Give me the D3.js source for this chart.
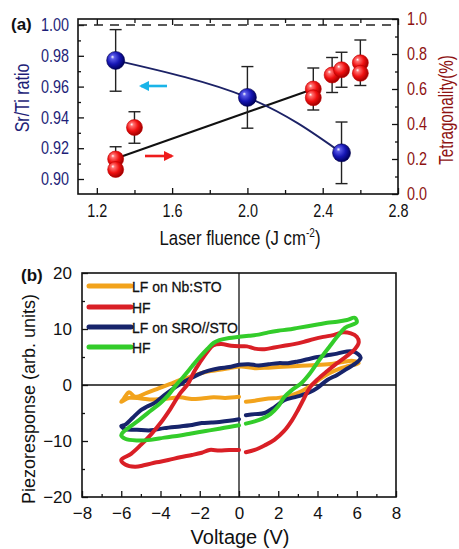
<!DOCTYPE html>
<html>
<head>
<meta charset="utf-8">
<script src="https://cdn.jsdelivr.net/npm/d3@7"></script>
<style>
  html, body { margin: 0; padding: 0; background: #fff; }
  svg { display: block; }
</style>
</head>
<body>
<svg id="fig" width="459" height="549"></svg>
<script>
// ---------- Panel (a): Sr/Ti ratio and tetragonality vs laser fluence ----------
const fluenceTicks = [1.2, 1.6, 2.0, 2.4, 2.8];
const fluenceMinor = [1.4, 1.8, 2.2, 2.6];
const srTiTicks = [0.90, 0.92, 0.94, 0.96, 0.98, 1.00];
const srTiMinor = [0.91, 0.93, 0.95, 0.97, 0.99];
const tetraTicks = [0.0, 0.2, 0.4, 0.6, 0.8, 1.0];
const tetraMinor = [0.1, 0.3, 0.5, 0.7, 0.9];

// Sr/Ti ratio (left axis): fluence, value, error
const srTiFluence = [1.3, 2.0, 2.5];
const srTiValue = [0.977, 0.953, 0.917];
const srTiError = [0.020, 0.020, 0.020];

// Tetragonality (right axis): fluence, value, error (error null = no bar)
const tetraFluence = [1.3, 1.3, 1.4, 2.35, 2.35, 2.45, 2.5, 2.6, 2.6];
const tetraValue = [0.20, 0.14, 0.38, 0.60, 0.55, 0.68, 0.71, 0.75, 0.69];
const tetraError = [0.07, null, 0.09, 0.12, null, 0.10, 0.10, 0.13, null];

// linear trend for tetragonality (end points)
const trendFluence = [1.32, 2.35];
const trendValue = [0.21, 0.60];

// ---------- Panel (b): PFM hysteresis loops ----------
const voltTicks = [-8, -6, -4, -2, 0, 2, 4, 6, 8];
const voltMinor = [-7, -5, -3, -1, 1, 3, 5, 7];
const pzTicks = [-20, -10, 0, 10, 20];
const pzMinor = [-15, -5, 5, 15];

const legendLabels = ["LF on Nb:STO", "HF", "LF on SRO//STO", "HF"];
const loopColors = ["#f2a31c", "#d91f26", "#17246b", "#33cc2a"];

const loopLFNb = [[0.35,-3.0],[0.8,-2.8],[1.5,-2.4],[2.0,-2.3],[2.5,-2.0],[3.0,-1.4],[3.3,-0.9],[3.7,0.0],[4.1,1.0],[4.6,2.1],[5.1,2.9],[5.6,3.4],[6.1,3.9],[5.8,4.3],[5.3,4.1],[4.8,3.8],[4.1,3.6],[3.5,3.5],[3.0,3.4],[2.5,3.3],[2.0,3.2],[1.5,3.1],[0.8,3.0],[0.1,3.3],[-0.5,3.0],[-1.0,2.7],[-1.6,2.4],[-2.2,1.8],[-2.6,1.3],[-3.0,0.9],[-3.5,0.2],[-4.1,-0.6],[-4.7,-1.4],[-5.3,-2.1],[-5.6,-1.3],[-5.9,-2.6],[-6.0,-3.0],[-5.6,-2.3],[-5.0,-2.4],[-4.4,-2.6],[-3.6,-2.4],[-3.0,-2.2],[-2.4,-2.5],[-1.9,-2.4],[-1.3,-2.2],[-0.7,-2.3],[0.0,-2.1]];

const loopHF1 = [[0.35,-12.0],[0.8,-11.6],[1.3,-10.8],[1.8,-9.8],[2.3,-8.2],[2.7,-6.3],[3.0,-4.5],[3.3,-2.5],[3.6,-0.5],[4.0,1.0],[4.5,2.5],[5.0,3.9],[5.5,5.2],[5.9,6.4],[6.1,7.6],[6.0,8.6],[5.7,9.2],[5.3,9.4],[4.8,8.9],[4.3,8.6],[3.8,8.2],[3.3,7.7],[2.8,7.3],[2.3,7.0],[1.8,6.7],[1.3,6.4],[0.8,6.5],[0.4,6.9],[0.0,6.9],[-0.4,7.0],[-0.9,7.3],[-1.3,7.1],[-1.6,6.0],[-2.0,4.0],[-2.3,2.3],[-2.6,0.2],[-3.0,-1.5],[-3.5,-4.3],[-4.0,-6.8],[-4.5,-8.9],[-5.0,-10.7],[-5.5,-12.3],[-6.0,-13.4],[-5.8,-14.2],[-5.3,-14.6],[-4.8,-14.3],[-4.2,-13.8],[-3.6,-13.4],[-3.0,-12.9],[-2.4,-12.5],[-1.9,-12.1],[-1.5,-11.6],[-1.0,-11.7],[-0.5,-11.6],[0.0,-11.6]];

const loopLFSro = [[0.35,-5.4],[0.8,-5.2],[1.3,-5.0],[1.8,-4.0],[2.3,-2.7],[2.8,-2.2],[3.2,-1.8],[3.6,-1.3],[4.0,-0.5],[4.5,0.9],[5.0,1.8],[5.5,2.9],[6.0,4.0],[6.2,4.9],[5.9,5.9],[5.5,6.0],[5.0,5.6],[4.5,5.3],[4.0,5.0],[3.5,4.6],[3.0,4.2],[2.5,3.9],[2.0,3.9],[1.5,3.7],[1.0,3.5],[0.5,3.7],[0.0,3.6],[-0.5,3.2],[-1.0,3.0],[-1.5,2.6],[-2.0,2.0],[-2.4,1.3],[-2.8,0.6],[-3.2,-0.3],[-3.8,-1.8],[-4.3,-3.2],[-4.7,-3.9],[-5.0,-4.5],[-5.4,-5.8],[-5.8,-7.1],[-6.0,-7.3],[-5.8,-7.9],[-5.2,-8.0],[-4.5,-8.1],[-3.8,-7.7],[-3.0,-7.4],[-2.5,-7.2],[-1.9,-6.8],[-1.4,-6.7],[-1.0,-6.6],[-0.5,-6.4],[0.0,-6.1]];

const loopHF2 = [[0.35,-6.9],[0.8,-6.5],[1.2,-6.0],[1.6,-5.2],[2.0,-3.8],[2.3,-2.2],[2.7,-0.9],[3.2,0.4],[3.6,2.0],[4.1,4.5],[4.6,6.8],[5.0,8.6],[5.4,10.2],[6.0,11.2],[5.9,12.0],[5.5,11.6],[5.0,11.3],[4.5,11.1],[4.0,10.8],[3.5,10.5],[3.0,10.2],[2.5,9.9],[2.0,9.7],[1.5,9.4],[1.0,9.0],[0.5,8.8],[0.0,8.6],[-0.5,8.4],[-1.0,8.0],[-1.3,7.5],[-1.6,6.5],[-2.0,5.0],[-2.4,3.3],[-2.8,1.6],[-3.2,0.0],[-3.6,-1.8],[-4.0,-3.2],[-4.5,-4.6],[-5.0,-6.0],[-5.5,-7.3],[-5.9,-8.4],[-6.0,-9.0],[-5.8,-9.6],[-5.2,-9.9],[-4.5,-9.8],[-3.8,-9.4],[-3.0,-9.0],[-2.5,-8.7],[-2.0,-8.4],[-1.5,-8.1],[-1.0,-7.8],[-0.5,-7.5],[0.0,-7.2]];

const loops = [loopLFNb, loopLFSro, loopHF1, loopHF2];
const loopColorIdx = [0, 2, 1, 3];

// ---------- drawing ----------
const svg = d3.select("#fig");
const SANS = "Arial,'Liberation Sans',Helvetica,sans-serif";
const NAVY = "#1e1e78";
const DRED = "#8e1212";
const SQUEEZE = 0.8;   // horizontal condensing for panel (a) lettering

const defs = svg.append("defs");
function sphere(id, light, mid, dark) {
  const g = defs.append("radialGradient").attr("id", id)
    .attr("cx", "40%").attr("cy", "40%").attr("r", "60%").attr("fx", "32%").attr("fy", "30%");
  g.append("stop").attr("offset", "0%").attr("stop-color", "#ffffff");
  g.append("stop").attr("offset", "18%").attr("stop-color", light);
  g.append("stop").attr("offset", "60%").attr("stop-color", mid);
  g.append("stop").attr("offset", "100%").attr("stop-color", dark);
}
sphere("gBlue", "#5a5ae8", "#1616b4", "#000060");
sphere("gRed", "#ff7070", "#f01010", "#a00000");

["arrCyan", "arrRed"].forEach((id, i) => {
  defs.append("marker").attr("id", id).attr("viewBox", "0 0 10 10")
    .attr("refX", 8).attr("refY", 5).attr("markerWidth", 4).attr("markerHeight", 4)
    .attr("orient", "auto")
    .append("path").attr("d", "M0,0 L10,5 L0,10 z")
    .attr("fill", i === 0 ? "#1ab4e8" : "#ee1c1c");
});

// ---- Panel (a) ----
const xa = d3.scaleLinear().domain([1.1, 2.8]).range([78, 398]);
const ya = d3.scaleLinear().domain([0.90, 1.00]).range([179, 25]);
const yr = d3.scaleLinear().domain([0, 1]).range([194, 19]);
const A = svg.append("g");

function styleAxis(g, color, size, squeeze) {
  g.select(".domain").remove();
  g.selectAll("line").attr("stroke", "#111").attr("stroke-width", 1.3);
  const t = g.selectAll("text").attr("fill", color)
    .style("font-family", SANS).style("font-size", size + "px");
  if (squeeze) {
    t.each(function () {
      const el = d3.select(this);
      const x = +el.attr("x") || 0;
      el.attr("x", 0).attr("transform", `translate(${x},0) scale(${squeeze},1)`);
    });
  }
}

// bottom
A.append("g").attr("transform", "translate(0,194)")
  .call(d3.axisBottom(xa).tickValues(fluenceTicks).tickSize(-6).tickPadding(10).tickFormat(d3.format(".1f")))
  .call(g => styleAxis(g, "#111", 18, SQUEEZE));
A.append("g").attr("transform", "translate(0,194)")
  .call(d3.axisBottom(xa).tickValues(fluenceMinor).tickSize(-4).tickFormat(""))
  .call(g => styleAxis(g, "#111", 16));
// top
A.append("g").attr("transform", "translate(0,19)")
  .call(d3.axisTop(xa).tickValues(fluenceTicks).tickSize(-6).tickFormat(""))
  .call(g => styleAxis(g, "#111", 16));
A.append("g").attr("transform", "translate(0,19)")
  .call(d3.axisTop(xa).tickValues(fluenceMinor).tickSize(-4).tickFormat(""))
  .call(g => styleAxis(g, "#111", 16));
// left
A.append("g").attr("transform", "translate(78,0)")
  .call(d3.axisLeft(ya).tickValues(srTiTicks).tickSize(-6).tickPadding(9).tickFormat(d3.format(".2f")))
  .call(g => styleAxis(g, NAVY, 18, SQUEEZE));
A.append("g").attr("transform", "translate(78,0)")
  .call(d3.axisLeft(ya).tickValues(srTiMinor).tickSize(-3).tickFormat(""))
  .call(g => styleAxis(g, NAVY, 16));
// right
A.append("g").attr("transform", "translate(398,0)")
  .call(d3.axisRight(yr).tickValues(tetraTicks).tickSize(-6).tickPadding(9).tickFormat(d3.format(".1f")))
  .call(g => styleAxis(g, DRED, 18, SQUEEZE));
A.append("g").attr("transform", "translate(398,0)")
  .call(d3.axisRight(yr).tickValues(tetraMinor).tickSize(-3).tickFormat(""))
  .call(g => styleAxis(g, DRED, 16));

// frame
A.append("rect").attr("x", 78).attr("y", 19).attr("width", 320).attr("height", 175)
  .attr("fill", "none").attr("stroke", "#111").attr("stroke-width", 1.6);

// dashed reference at Sr/Ti = 1
A.append("line").attr("x1", 78).attr("x2", 398).attr("y1", ya(1.0)).attr("y2", ya(1.0))
  .attr("stroke", "#222").attr("stroke-width", 1.4).attr("stroke-dasharray", "9,7");

// tetragonality trend line
A.append("line")
  .attr("x1", xa(trendFluence[0])).attr("y1", yr(trendValue[0]))
  .attr("x2", xa(trendFluence[1])).attr("y2", yr(trendValue[1]))
  .attr("stroke", "#111").attr("stroke-width", 2);

// Sr/Ti guide curve
A.append("path")
  .attr("d", d3.line().curve(d3.curveNatural).x((d, i) => xa(srTiFluence[i])).y(d => ya(d))(srTiValue))
  .attr("fill", "none").attr("stroke", "#1c2266").attr("stroke-width", 1.8);

// error bars
function errBar(x, y0, y1) {
  const e = A.append("g").attr("stroke", "#222").attr("stroke-width", 1.4);
  e.append("line").attr("x1", x).attr("x2", x).attr("y1", y0).attr("y2", y1);
  e.append("line").attr("x1", x - 6).attr("x2", x + 6).attr("y1", y0).attr("y2", y0);
  e.append("line").attr("x1", x - 6).attr("x2", x + 6).attr("y1", y1).attr("y2", y1);
}
srTiValue.forEach((v, i) => errBar(xa(srTiFluence[i]), ya(v + srTiError[i]), ya(v - srTiError[i])));
tetraValue.forEach((v, i) => {
  if (tetraError[i] != null) errBar(xa(tetraFluence[i]), yr(v + tetraError[i]), yr(v - tetraError[i]));
});

// markers
A.selectAll("circle.tetra").data(tetraValue).join("circle").attr("class", "tetra")
  .attr("cx", (d, i) => xa(tetraFluence[i])).attr("cy", d => yr(d)).attr("r", 8)
  .attr("fill", "url(#gRed)").attr("stroke", "#c00000").attr("stroke-width", 0.6);
A.selectAll("circle.srti").data(srTiValue).join("circle").attr("class", "srti")
  .attr("cx", (d, i) => xa(srTiFluence[i])).attr("cy", d => ya(d)).attr("r", 9)
  .attr("fill", "url(#gBlue)").attr("stroke", "#00004a").attr("stroke-width", 0.6);

// arrows indicating which axis each series belongs to
A.append("line").attr("x1", 167).attr("x2", 141).attr("y1", 86).attr("y2", 86)
  .attr("stroke", "#1ab4e8").attr("stroke-width", 2.6).attr("marker-end", "url(#arrCyan)");
A.append("line").attr("x1", 145).attr("x2", 172).attr("y1", 156).attr("y2", 156)
  .attr("stroke", "#ee1c1c").attr("stroke-width", 2.6).attr("marker-end", "url(#arrRed)");

// labels
A.append("text").attr("x", 11).attr("y", 30).text("(a)")
  .style("font-family", SANS).style("font-size", "17px").style("font-weight", "bold").attr("fill", "#111");
A.append("text").attr("transform", `translate(29,98) rotate(-90) scale(${SQUEEZE},1)`).attr("text-anchor", "middle")
  .text("Sr/Ti ratio").style("font-family", SANS).style("font-size", "20px").attr("fill", NAVY);
A.append("text").attr("transform", "translate(453,110) rotate(-90) scale(0.76,1)").attr("text-anchor", "middle")
  .text("Tetragonality(%)").style("font-family", SANS).style("font-size", "20px").attr("fill", DRED);
const xl = A.append("text").attr("transform", "translate(240,245) scale(0.84,1)").attr("text-anchor", "middle")
  .style("font-family", SANS).style("font-size", "20px").attr("fill", "#111");
xl.append("tspan").text("Laser fluence (J cm");
xl.append("tspan").text("-2").attr("dy", -8).style("font-size", "12px");
xl.append("tspan").text(")").attr("dy", 8);

// ---- Panel (b) ----
const xb = d3.scaleLinear().domain([-8, 8]).range([82, 396]);
const yb = d3.scaleLinear().domain([-20, 20]).range([497, 273]);
const B = svg.append("g");

B.append("g").attr("transform", "translate(0,497)")
  .call(d3.axisBottom(xb).tickValues(voltTicks).tickSize(-6).tickPadding(10))
  .call(g => styleAxis(g, "#111", 17));
B.append("g").attr("transform", "translate(0,497)")
  .call(d3.axisBottom(xb).tickValues(voltMinor).tickSize(-3).tickFormat(""))
  .call(g => styleAxis(g, "#111", 16));
B.append("g").attr("transform", "translate(82,0)")
  .call(d3.axisLeft(yb).tickValues(pzTicks).tickSize(-6).tickPadding(10))
  .call(g => styleAxis(g, "#111", 17));
B.append("g").attr("transform", "translate(82,0)")
  .call(d3.axisLeft(yb).tickValues(pzMinor).tickSize(-3).tickFormat(""))
  .call(g => styleAxis(g, "#111", 16));

// zero lines
B.append("line").attr("x1", xb(0)).attr("x2", xb(0)).attr("y1", yb(20)).attr("y2", yb(-20))
  .attr("stroke", "#111").attr("stroke-width", 1.3);
B.append("line").attr("x1", xb(-8)).attr("x2", xb(8)).attr("y1", yb(0)).attr("y2", yb(0))
  .attr("stroke", "#111").attr("stroke-width", 1.3);

// loops
const loopLine = d3.line().x(d => xb(d[0])).y(d => yb(d[1])).curve(d3.curveCatmullRom.alpha(0.5));
loops.forEach((pts, i) => {
  B.append("path").attr("d", loopLine(pts)).attr("fill", "none")
    .attr("stroke", loopColors[loopColorIdx[i]]).attr("stroke-width", 4)
    .attr("stroke-linejoin", "round").attr("stroke-linecap", "round");
});

B.append("rect").attr("x", 82).attr("y", 273).attr("width", 314).attr("height", 224)
  .attr("fill", "none").attr("stroke", "#111").attr("stroke-width", 1.6);

// legend
const legY = [286, 307, 327, 347];
legendLabels.forEach((t, i) => {
  B.append("line").attr("x1", 89).attr("x2", 131).attr("y1", legY[i]).attr("y2", legY[i])
    .attr("stroke", loopColors[i]).attr("stroke-width", 5).attr("stroke-linecap", "round");
  B.append("text").attr("transform", `translate(132,${legY[i]}) scale(0.9,1)`).attr("dy", "0.36em").text(t)
    .style("font-family", SANS).style("font-size", "15.5px").attr("fill", "#111")
    .attr("stroke", "#111").attr("stroke-width", 0.3);
});

B.append("text").attr("x", 21).attr("y", 281).text("(b)")
  .style("font-family", SANS).style("font-size", "17px").style("font-weight", "bold").attr("fill", "#111");
B.append("text").attr("transform", "translate(35,399) rotate(-90)").attr("text-anchor", "middle")
  .text("Piezoresponse (arb. units)").style("font-family", SANS).style("font-size", "18px").attr("fill", "#111");
B.append("text").attr("x", 240).attr("y", 544).attr("text-anchor", "middle")
  .text("Voltage (V)").style("font-family", SANS).style("font-size", "20px").attr("fill", "#111");
</script>
</body>
</html>
